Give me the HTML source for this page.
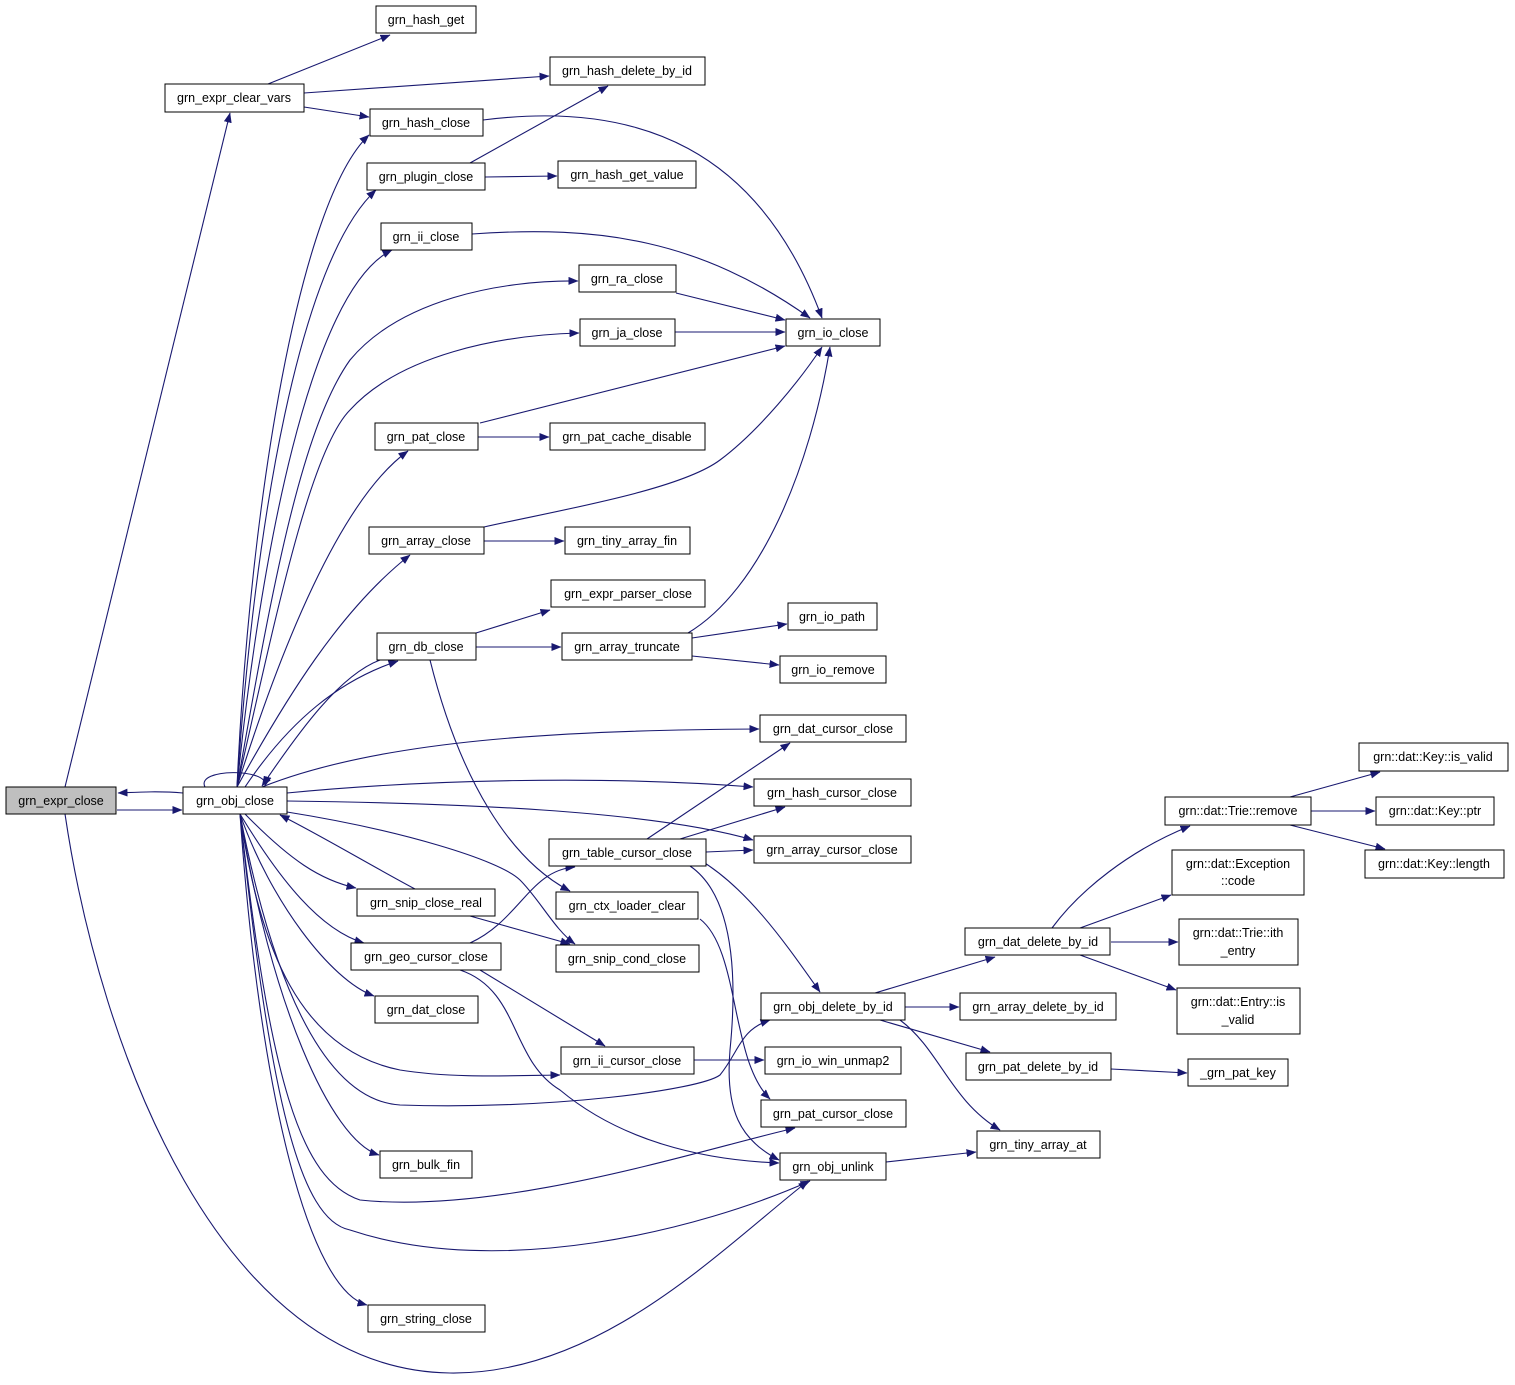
<!DOCTYPE html>
<html><head><meta charset="utf-8"><style>
html,body{margin:0;padding:0;background:#fff;}
svg text{font-family:"Liberation Sans",sans-serif;font-size:12.5px;fill:#000;}
</style></head><body>
<svg width="1515" height="1380" viewBox="0 0 1515 1380" xmlns="http://www.w3.org/2000/svg">
<defs><marker id="a" markerWidth="10" markerHeight="8" refX="9.5" refY="4" orient="auto" markerUnits="userSpaceOnUse"><path d="M0,0 L10,4 L0,8 z" fill="#191970"/></marker></defs>
<g fill="none" stroke="#191970" stroke-width="1.1" marker-end="url(#a)">
<path d="M65,787 L230,113"/>
<path d="M117,810 L182,810"/>
<path d="M183,793 C160,791 140,792 118,793"/>
<path d="M65,814 C100,1050 220,1370 450,1373 C600,1375 720,1250 808,1181"/>
<path d="M268,84 L390,35"/>
<path d="M304,93 L549,76"/>
<path d="M304,107 L369,117"/>
<path d="M470,163 L608,86"/>
<path d="M485,177 L557,176"/>
<path d="M483,120 C640,100 760,150 822,318"/>
<path d="M472,234 C600,225 700,240 810,318"/>
<path d="M676,293 L785,320"/>
<path d="M675,332 L785,332"/>
<path d="M480,423 L785,346"/>
<path d="M478,437 L549,437"/>
<path d="M484,527 C560,510 680,490 720,460 C760,430 800,380 822,347"/>
<path d="M484,541 L564,541"/>
<path d="M688,633 C760,590 810,470 830,347"/>
<path d="M476,633 L550,610"/>
<path d="M476,647 L561,647"/>
<path d="M692,638 L787,624"/>
<path d="M692,656 L779,665"/>
<path d="M430,660 C460,780 510,860 570,891"/>
<path d="M237,787 C250,500 300,200 369,135"/>
<path d="M237,787 C255,520 300,260 376,190"/>
<path d="M237,787 C260,560 310,290 392,250"/>
<path d="M237,787 C270,600 300,430 350,360 C400,300 500,280 578,281"/>
<path d="M237,787 C275,620 310,450 350,410 C400,355 500,335 579,333"/>
<path d="M237,787 C280,650 340,500 408,451"/>
<path d="M237,787 C285,700 340,610 410,555"/>
<path d="M245,787 C290,720 340,680 398,661"/>
<path d="M380,660 C340,675 300,730 262,786"/>
<path d="M262,787 C380,740 560,730 759,729"/>
<path d="M287,793 C420,780 600,775 753,787"/>
<path d="M287,801 C450,803 650,810 753,840"/>
<path d="M205,787 C195,768 270,768 265,786"/>
<path d="M245,814 C290,860 320,880 356,888"/>
<path d="M415,889 C370,865 320,835 280,815"/>
<path d="M287,812 C400,830 500,860 520,880 C540,900 555,930 575,944"/>
<path d="M470,916 L570,944"/>
<path d="M240,814 C280,880 320,930 364,943"/>
<path d="M240,814 C270,900 330,980 374,996"/>
<path d="M240,814 C260,950 300,1050 400,1070 C450,1078 500,1076 560,1075"/>
<path d="M240,814 C270,970 320,1100 400,1105 C550,1110 700,1090 720,1075 C740,1050 740,1030 770,1020"/>
<path d="M240,814 C270,1000 330,1140 379,1155"/>
<path d="M240,814 C270,1080 300,1180 360,1200 C500,1215 700,1150 795,1128"/>
<path d="M240,814 C270,1100 300,1220 350,1230 C500,1280 700,1230 810,1181"/>
<path d="M240,814 C260,1100 310,1290 367,1305"/>
<path d="M470,943 C520,920 530,870 575,867"/>
<path d="M647,839 L790,743"/>
<path d="M680,839 L785,807"/>
<path d="M706,852 L753,850"/>
<path d="M700,860 C750,890 790,950 820,992"/>
<path d="M690,866 C740,900 735,1000 730,1050 C725,1110 740,1140 779,1160"/>
<path d="M700,919 C740,950 730,1060 770,1099"/>
<path d="M480,970 L605,1046"/>
<path d="M460,970 C520,990 510,1060 560,1090 C620,1140 700,1160 779,1163"/>
<path d="M694,1060 L764,1060"/>
<path d="M905,1007 L959,1007"/>
<path d="M875,993 L995,957"/>
<path d="M880,1020 L990,1052"/>
<path d="M900,1020 C940,1050 950,1100 1000,1130"/>
<path d="M886,1162 L976,1152"/>
<path d="M1111,1069 L1187,1073"/>
<path d="M1052,928 C1080,890 1130,850 1190,826"/>
<path d="M1080,928 L1171,895"/>
<path d="M1111,942 L1178,942"/>
<path d="M1080,955 L1176,990"/>
<path d="M1290,797 L1380,772"/>
<path d="M1311,811 L1375,811"/>
<path d="M1290,825 L1385,849"/>
</g>
<g stroke="#000" stroke-width="1" fill="#fff">
<rect x="6" y="787" width="110" height="27" fill="#bfbfbf"/>
<rect x="183" y="787" width="104" height="27"/>
<rect x="376" y="6" width="100" height="27"/>
<rect x="165" y="84" width="139" height="28"/>
<rect x="550" y="57" width="155" height="28"/>
<rect x="370" y="109" width="113" height="27"/>
<rect x="367" y="163" width="118" height="27"/>
<rect x="558" y="161" width="138" height="27"/>
<rect x="381" y="223" width="91" height="27"/>
<rect x="579" y="265" width="97" height="27"/>
<rect x="786" y="319" width="94" height="27"/>
<rect x="580" y="319" width="95" height="27"/>
<rect x="375" y="423" width="103" height="27"/>
<rect x="550" y="423" width="155" height="27"/>
<rect x="369" y="527" width="115" height="27"/>
<rect x="565" y="527" width="125" height="27"/>
<rect x="551" y="580" width="154" height="27"/>
<rect x="788" y="603" width="89" height="27"/>
<rect x="377" y="633" width="99" height="27"/>
<rect x="562" y="633" width="130" height="27"/>
<rect x="780" y="656" width="106" height="27"/>
<rect x="760" y="715" width="146" height="27"/>
<rect x="754" y="779" width="157" height="27"/>
<rect x="754" y="836" width="157" height="27"/>
<rect x="549" y="839" width="157" height="27"/>
<rect x="357" y="889" width="138" height="27"/>
<rect x="556" y="892" width="142" height="27"/>
<rect x="351" y="943" width="150" height="27"/>
<rect x="556" y="945" width="143" height="27"/>
<rect x="375" y="996" width="103" height="27"/>
<rect x="761" y="993" width="144" height="27"/>
<rect x="960" y="993" width="156" height="27"/>
<rect x="561" y="1047" width="133" height="27"/>
<rect x="765" y="1047" width="136" height="27"/>
<rect x="966" y="1053" width="145" height="27"/>
<rect x="1188" y="1059" width="100" height="27"/>
<rect x="761" y="1100" width="145" height="27"/>
<rect x="977" y="1131" width="123" height="27"/>
<rect x="380" y="1151" width="92" height="27"/>
<rect x="780" y="1153" width="106" height="27"/>
<rect x="368" y="1305" width="117" height="27"/>
<rect x="965" y="928" width="145" height="27"/>
<rect x="1165" y="797" width="146" height="28"/>
<rect x="1359" y="743" width="149" height="28"/>
<rect x="1376" y="797" width="118" height="28"/>
<rect x="1365" y="850" width="139" height="28"/>
<rect x="1172" y="850" width="132" height="45"/>
<rect x="1179" y="919" width="119" height="46"/>
<rect x="1177" y="988" width="123" height="46"/>
</g>
<g text-anchor="middle">
<text x="61" y="805">grn_expr_close</text>
<text x="235" y="805">grn_obj_close</text>
<text x="426" y="24">grn_hash_get</text>
<text x="234" y="102">grn_expr_clear_vars</text>
<text x="627" y="75">grn_hash_delete_by_id</text>
<text x="426" y="127">grn_hash_close</text>
<text x="426" y="181">grn_plugin_close</text>
<text x="627" y="179">grn_hash_get_value</text>
<text x="426" y="241">grn_ii_close</text>
<text x="627" y="283">grn_ra_close</text>
<text x="833" y="337">grn_io_close</text>
<text x="627" y="337">grn_ja_close</text>
<text x="426" y="441">grn_pat_close</text>
<text x="627" y="441">grn_pat_cache_disable</text>
<text x="426" y="545">grn_array_close</text>
<text x="627" y="545">grn_tiny_array_fin</text>
<text x="628" y="598">grn_expr_parser_close</text>
<text x="832" y="621">grn_io_path</text>
<text x="426" y="651">grn_db_close</text>
<text x="627" y="651">grn_array_truncate</text>
<text x="833" y="674">grn_io_remove</text>
<text x="833" y="733">grn_dat_cursor_close</text>
<text x="832" y="797">grn_hash_cursor_close</text>
<text x="832" y="854">grn_array_cursor_close</text>
<text x="627" y="857">grn_table_cursor_close</text>
<text x="426" y="907">grn_snip_close_real</text>
<text x="627" y="910">grn_ctx_loader_clear</text>
<text x="426" y="961">grn_geo_cursor_close</text>
<text x="627" y="963">grn_snip_cond_close</text>
<text x="426" y="1014">grn_dat_close</text>
<text x="833" y="1011">grn_obj_delete_by_id</text>
<text x="1038" y="1011">grn_array_delete_by_id</text>
<text x="627" y="1065">grn_ii_cursor_close</text>
<text x="833" y="1065">grn_io_win_unmap2</text>
<text x="1038" y="1071">grn_pat_delete_by_id</text>
<text x="1238" y="1077">_grn_pat_key</text>
<text x="833" y="1118">grn_pat_cursor_close</text>
<text x="1038" y="1149">grn_tiny_array_at</text>
<text x="426" y="1169">grn_bulk_fin</text>
<text x="833" y="1171">grn_obj_unlink</text>
<text x="426" y="1323">grn_string_close</text>
<text x="1038" y="946">grn_dat_delete_by_id</text>
<text x="1238" y="815">grn::dat::Trie::remove</text>
<text x="1433" y="761">grn::dat::Key::is_valid</text>
<text x="1435" y="815">grn::dat::Key::ptr</text>
<text x="1434" y="868">grn::dat::Key::length</text>
<text x="1238" y="868">grn::dat::Exception</text>
<text x="1238" y="885">::code</text>
<text x="1238" y="937">grn::dat::Trie::ith</text>
<text x="1238" y="955">_entry</text>
<text x="1238" y="1006">grn::dat::Entry::is</text>
<text x="1238" y="1024">_valid</text>
</g>
</svg>
</body></html>
